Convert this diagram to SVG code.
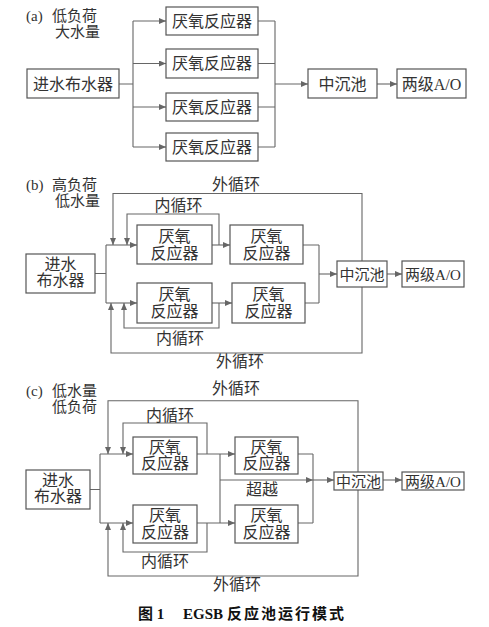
<svg xmlns="http://www.w3.org/2000/svg" width="489" height="627" viewBox="0 0 489 627">
<style>
  .box { fill: #fff; stroke: #555; stroke-width: 1.2; }
  .ln { fill: none; stroke: #666; stroke-width: 1.1; }
  .ar { fill: none; stroke: #666; stroke-width: 1.1; marker-end: url(#arr); }
  text { font-family: "Liberation Serif", "Noto Sans CJK SC", serif; fill: #333; }
  .t { font-size: 16px; text-anchor: middle; }
  .s { font-size: 15px; text-anchor: middle; }
  .lab { font-size: 15px; }
  .cap { font-size: 15px; font-weight: bold; fill: #111; }
</style>
<defs>
  <marker id="arr" markerWidth="7" markerHeight="6" refX="7" refY="3" orient="auto" markerUnits="userSpaceOnUse">
    <path d="M0,0 L7,3 L0,6 z" fill="#666"/>
  </marker>
</defs>
<rect width="489" height="627" fill="#fff"/>

<!-- connectors -->
<g id="connectors">
  <!-- (a) -->
  <path class="ln" d="M119,84 H133 M133,21 V147"/>
  <path class="ar" d="M133,21 H166"/>
  <path class="ar" d="M133,63.5 H166"/>
  <path class="ar" d="M133,107 H166"/>
  <path class="ar" d="M133,147 H166"/>
  <path class="ln" d="M258,21 H275 M258,63.5 H275 M258,107 H275 M258,147 H275 M275,21 V147"/>
  <path class="ar" d="M275,84 H308"/>
  <path class="ar" d="M377,84 H397"/>
  <!-- (b) -->
  <path class="ln" d="M95,273.5 H106 M106,245 V303"/>
  <path class="ar" d="M106,245 H137"/>
  <path class="ar" d="M106,303 H137"/>
  <path class="ar" d="M362,261 V193.5 H113 V245"/>
  <path class="ar" d="M362,287 V353 H111 V303"/>
  <path class="ar" d="M219,245 V214 H127 V245"/>
  <path class="ar" d="M219,303 V328 H124 V303"/>
  <path class="ar" d="M212,245 H230"/>
  <path class="ar" d="M212,303 H232"/>
  <path class="ln" d="M303,245 H319 M305,303 H319 M319,245 V303"/>
  <path class="ar" d="M319,274 H337"/>
  <path class="ar" d="M387,274 H402"/>
  <!-- (c) -->
  <path class="ln" d="M90,489.5 H100 M100,454 V523"/>
  <path class="ar" d="M100,454 H133"/>
  <path class="ar" d="M100,523 H133"/>
  <path class="ar" d="M358,472 V400.7 H108 V454"/>
  <path class="ar" d="M358,490 V576 H108 V523"/>
  <path class="ar" d="M207,454 V423 H123 V454"/>
  <path class="ar" d="M207,523 V552 H123 V523"/>
  <path class="ar" d="M197,454 H235"/>
  <path class="ar" d="M197,523 H235"/>
  <path class="ln" d="M220,454 V523"/>
  <path class="ar" d="M220,480 H313"/>
  <path class="ln" d="M298,454 H313 M298,523 H313 M313,454 V523"/>
  <path class="ar" d="M313,480 H334"/>
  <path class="ar" d="M383,480 H402"/>
</g>

<!-- panel (a) -->
<g id="a_label">
  <text class="lab" x="26" y="21">(a)</text>
  <text class="lab" x="52" y="21">低负荷</text>
  <text class="lab" x="55" y="37">大水量</text>
</g>
<g id="a_in"><rect class="box" x="27" y="69" width="92" height="29"/><text class="t" x="73" y="89.5">进水布水器</text></g>
<g id="a_r1"><rect class="box" x="166" y="7" width="92" height="28"/><text class="t" x="212" y="26.5">厌氧反应器</text></g>
<g id="a_r2"><rect class="box" x="166" y="49" width="92" height="29"/><text class="t" x="212" y="69">厌氧反应器</text></g>
<g id="a_r3"><rect class="box" x="166" y="93" width="92" height="28"/><text class="t" x="212" y="112.5">厌氧反应器</text></g>
<g id="a_r4"><rect class="box" x="166" y="133" width="92" height="28"/><text class="t" x="212" y="152.5">厌氧反应器</text></g>
<g id="a_settle"><rect class="box" x="308" y="69" width="69" height="29"/><text class="t" x="342.5" y="89.5">中沉池</text></g>
<g id="a_ao"><rect class="box" x="397" y="69" width="69" height="29"/><text class="t" x="431.5" y="89.5">两级A/O</text></g>

<!-- panel (b) -->
<g id="b_label">
  <text class="lab" x="26" y="190">(b)</text>
  <text class="lab" x="52" y="190">高负荷</text>
  <text class="lab" x="55" y="206">低水量</text>
  <text class="t" x="236" y="190">外循环</text>
  <text class="t" x="240" y="367">外循环</text>
  <text class="t" x="178.5" y="211">内循环</text>
  <text class="t" x="180" y="344">内循环</text>
</g>
<g id="b_in"><rect class="box" x="26" y="254" width="69" height="39"/><text class="t" x="60.5" y="270">进水</text><text class="t" x="60.5" y="286">布水器</text></g>
<g id="b_r1"><rect class="box" x="137" y="225" width="75" height="39"/><text class="t" x="174.5" y="242">厌氧</text><text class="t" x="174.5" y="259">反应器</text></g>
<g id="b_r2"><rect class="box" x="137" y="283" width="75" height="40"/><text class="t" x="174.5" y="300">厌氧</text><text class="t" x="174.5" y="317">反应器</text></g>
<g id="b_r3"><rect class="box" x="230" y="225" width="73" height="39"/><text class="t" x="266.5" y="242">厌氧</text><text class="t" x="266.5" y="259">反应器</text></g>
<g id="b_r4"><rect class="box" x="232" y="283" width="73" height="40"/><text class="t" x="268.5" y="300">厌氧</text><text class="t" x="268.5" y="317">反应器</text></g>
<g id="b_settle"><rect class="box" x="337" y="261" width="50" height="26"/><text class="s" x="362" y="279.5">中沉池</text></g>
<g id="b_ao"><rect class="box" x="402" y="261" width="62" height="26"/><text class="s" x="433" y="279.5">两级A/O</text></g>

<!-- panel (c) -->
<g id="c_label">
  <text class="lab" x="26" y="396">(c)</text>
  <text class="lab" x="52" y="396">低水量</text>
  <text class="lab" x="52" y="412">低负荷</text>
  <text class="t" x="236" y="394">外循环</text>
  <text class="t" x="237" y="590">外循环</text>
  <text class="t" x="170" y="421">内循环</text>
  <text class="t" x="165" y="567">内循环</text>
  <text class="t" x="262" y="495">超越</text>
</g>
<g id="c_in"><rect class="box" x="26" y="470" width="64" height="39"/><text class="t" x="58" y="486">进水</text><text class="t" x="58" y="502">布水器</text></g>
<g id="c_r1"><rect class="box" x="133" y="437" width="64" height="37"/><text class="t" x="165" y="453">厌氧</text><text class="t" x="165" y="469">反应器</text></g>
<g id="c_r2"><rect class="box" x="133" y="505" width="64" height="38"/><text class="t" x="165" y="521">厌氧</text><text class="t" x="165" y="538">反应器</text></g>
<g id="c_r3"><rect class="box" x="235" y="437" width="63" height="37"/><text class="t" x="266.5" y="453">厌氧</text><text class="t" x="266.5" y="469">反应器</text></g>
<g id="c_r4"><rect class="box" x="235" y="505" width="63" height="38"/><text class="t" x="266.5" y="521">厌氧</text><text class="t" x="266.5" y="538">反应器</text></g>
<g id="c_settle"><rect class="box" x="334" y="472" width="49" height="18"/><text class="s" x="358.5" y="486.5">中沉池</text></g>
<g id="c_ao"><rect class="box" x="402" y="472" width="62" height="18"/><text class="s" x="433" y="486.5">两级A/O</text></g>

<!-- caption -->
<g id="caption">
  <text class="cap" x="138" y="619">图 1</text>
  <text class="cap" x="183" y="619">EGSB<tspan dx="4" letter-spacing="2">反应池运行模式</tspan></text>
</g>
</svg>
